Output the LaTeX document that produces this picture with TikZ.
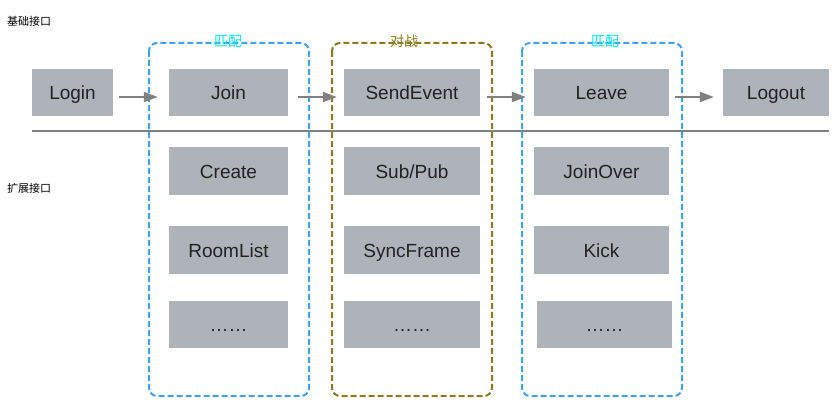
\documentclass[tikz,border=0pt]{standalone}
\usepackage{fontspec}
\setmainfont{Liberation Sans}
\newfontfamily\cjk{Noto Sans CJK SC}
\usetikzlibrary{arrows.meta}
\definecolor{boxgray}{HTML}{ADB3B9}
\definecolor{txt}{HTML}{222222}
\definecolor{linegray}{HTML}{808080}
\definecolor{dblue}{HTML}{42A0F0}
\definecolor{dolive}{HTML}{8C7A1E}
\definecolor{lcyan}{HTML}{00E8F0}
\tikzset{
  api/.style={fill=boxgray, draw=none, text=txt, font=\fontsize{19}{22}\selectfont, inner sep=0pt, text height=14pt, text depth=0pt},
  conn/.style={draw=linegray, line width=2pt, -{Triangle[length=14pt,width=10pt]}},
  grp/.style={line width=2pt, dash pattern=on 6pt off 3pt, rounded corners=8pt},
  grplabel/.style={font=\cjk\fontsize{14}{15}\selectfont, inner sep=0pt},
  side/.style={font=\cjk\fontsize{11}{12}\selectfont, inner sep=0pt, anchor=west, text=black}
}
\begin{document}
\begin{tikzpicture}[x=1pt,y=-1pt]
\useasboundingbox[fill=white] (0,0) rectangle (832,404);
% group frames
\draw[grp, dblue] (149,43) rectangle (309,396);
\draw[grp, dolive] (332,43) rectangle (492,396);
\draw[grp, dblue] (522,43) rectangle (682,396);
\node[grplabel, text=lcyan] (g1) at (228,41) {匹配};
\node[grplabel, text=dolive] (g2) at (404,41) {对战};
\node[grplabel, text=lcyan] (g3) at (605,41) {匹配};
% side labels
\node[side] (base) at (7,21) {基础接口};
\node[side] (ext) at (7,188) {扩展接口};
% separator
\coordinate (sl) at (32,130.5);
\coordinate (sr) at (829,130.5);
\draw[linegray, line width=2pt] (sl) -- (sr);
% row 1
\node[api, minimum width=81pt, minimum height=47pt] (login) at (72.5,92.5) {Login};
\node[api, minimum width=119pt, minimum height=47pt] (join) at (228.5,92.5) {Join};
\node[api, minimum width=136pt, minimum height=47pt] (send) at (412,92.5) {SendEvent};
\node[api, minimum width=135pt, minimum height=47pt] (leave) at (601.5,92.5) {Leave};
\node[api, minimum width=106pt, minimum height=47pt] (logout) at (776,92.5) {Logout};
% row 2
\node[api, minimum width=119pt, minimum height=48pt] (create) at (228.5,171) {Create};
\node[api, minimum width=136pt, minimum height=48pt] (subpub) at (412,171) {Sub/Pub};
\node[api, minimum width=135pt, minimum height=48pt] (joinover) at (601.5,171) {JoinOver};
% row 3
\node[api, minimum width=119pt, minimum height=48pt] (roomlist) at (228.5,250) {RoomList};
\node[api, minimum width=136pt, minimum height=48pt] (sync) at (412,250) {SyncFrame};
\node[api, minimum width=135pt, minimum height=48pt] (kick) at (601.5,250) {Kick};
% row 4
\node[api, minimum width=119pt, minimum height=47pt] (more1) at (228.5,324.5) {……};
\node[api, minimum width=136pt, minimum height=47pt] (more2) at (412,324.5) {……};
\node[api, minimum width=135pt, minimum height=47pt] (more3) at (604.5,324.5) {……};
% connectors
\draw[conn] ([xshift=6pt,yshift=-4.5pt]login.east) -- ([xshift=-11pt,yshift=-4.5pt]join.west);
\draw[conn] ([xshift=10pt,yshift=-4.5pt]join.east) -- ([xshift=-7pt,yshift=-4.5pt]send.west);
\draw[conn] ([xshift=7pt,yshift=-4.5pt]send.east) -- ([xshift=-8pt,yshift=-4.5pt]leave.west);
\draw[conn] ([xshift=6pt,yshift=-4.5pt]leave.east) -- ([xshift=-9pt,yshift=-4.5pt]logout.west);
\end{tikzpicture}
\end{document}
